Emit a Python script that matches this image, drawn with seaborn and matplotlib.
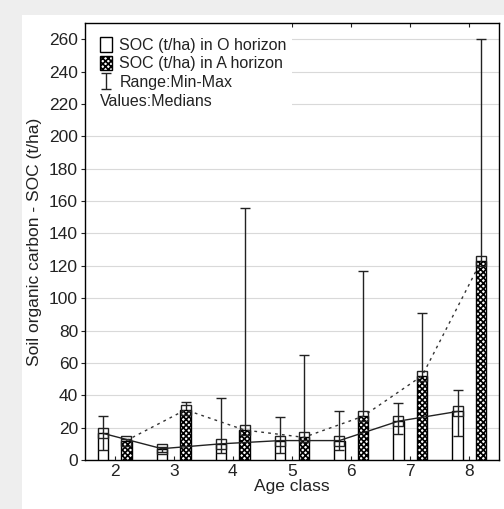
import numpy as np
import pandas as pd
import seaborn as sns
import matplotlib.pyplot as plt
from matplotlib.patches import Patch, Rectangle

# data (medians and min-max ranges)
ages = ["2", "3", "4", "5", "6", "7", "8"]
o_median = [16.5, 7, 10, 12, 12, 24, 30]
o_min = [6, 5, 4.5, 4.5, 6, 16, 15]
o_max = [27, 8, 38, 26.5, 30, 35, 43]
a_median = [12, 31, 18.5, 14, 27, 52, 123]
a_min = [9, 26, 10, 8, 12, 30, 70]
a_max = [13, 36, 155.5, 65, 116.5, 91, 260]

sns.set_style("ticks")
plt.rcParams["font.family"] = ["Liberation Sans", "DejaVu Sans"]
plt.rcParams["hatch.linewidth"] = 1.2

df = pd.DataFrame({
    "age": ages * 2,
    "horizon": ["O"] * len(ages) + ["A"] * len(ages),
    "soc": o_median + a_median,
})

fig = plt.figure(figsize=(5.04, 5.09), dpi=100, facecolor="#eeeeee")
fig.add_artist(Rectangle((22 / 504, 0), 1, 1 - 15 / 509, transform=fig.transFigure,
                         facecolor="white", edgecolor="none", zorder=-10))
ax = fig.add_axes([85 / 504, 1 - 460 / 509, 414 / 504, 437 / 509])
ax.set_zorder(1)

sns.barplot(data=df, x="age", y="soc", hue="horizon", order=ages, hue_order=["O", "A"],
            palette={"O": "white", "A": "white"}, edgecolor="black", linewidth=1,
            width=0.8, gap=0.56, errorbar=None, legend=False, ax=ax, zorder=3)
for bar in ax.containers[1]:
    bar.set_hatch("xxxxxx")

pos = np.arange(len(ages))
xo = pos - 0.2
xa = pos + 0.2

# whiskers (min-max)
ax.errorbar(xa, a_median, yerr=[np.array(a_median) - np.array(a_min), np.array(a_max) - np.array(a_median)],
            fmt="none", ecolor="#222222", elinewidth=1, capsize=3.5, capthick=1, zorder=2)
ax.errorbar(xo, o_median, yerr=[np.array(o_median) - np.array(o_min), np.array(o_max) - np.array(o_median)],
            fmt="none", ecolor="#222222", elinewidth=1, capsize=3.5, capthick=1, zorder=4,
            label="Range:Min-Max")

# median lines
ax.plot(xo, o_median, color="#222222", lw=1, marker="s", ms=6.5, mfc="none", mec="#222222", zorder=5)
ax.plot(xa, a_median, color="#333333", lw=1, ls=(0, (2, 3)), marker="s", ms=6.5, mfc="none",
        mec="#222222", zorder=5)

ax.set_xlim(-0.5, 6.5)
ax.set_ylim(0, 270)
ax.set_yticks(range(0, 261, 20))
ax.grid(axis="y", color="#d9d9d9", lw=0.8)
ax.set_axisbelow(True)
ax.add_patch(Rectangle((0, 0.79), 0.5, 0.21, transform=ax.transAxes, facecolor="white",
                       edgecolor="none", zorder=1))

for s in ax.spines.values():
    s.set_color("black")
    s.set_linewidth(1)
ax.tick_params(axis="y", direction="out", length=3, labelsize=12.5, colors="#222222", pad=2)
ax.tick_params(axis="x", direction="in", length=3, labelsize=12.5, colors="#222222", top=True, pad=3)
ax.set_xlabel("Age class", fontsize=12.5, color="#222222", labelpad=0)
ax.set_ylabel("Soil organic carbon - SOC (t/ha)", fontsize=12.5, color="#222222", labelpad=5)

handles = [
    Patch(facecolor="white", edgecolor="black", label="SOC (t/ha) in O horizon"),
    Patch(facecolor="white", edgecolor="black", hatch="xxxxxx", label="SOC (t/ha) in A horizon"),
]
eb_h, eb_l = ax.get_legend_handles_labels()
handles += eb_h
ax.legend(handles=handles, loc="upper left", bbox_to_anchor=(0.01, 0.993), frameon=False,
          fontsize=11.5, handlelength=0.75, handleheight=1.0, handletextpad=0.45,
          labelspacing=0.18, borderaxespad=0.3, labelcolor="#222222")
ax.text(0.036, 0.82, "Values:Medians", transform=ax.transAxes, fontsize=11.5, color="#222222",
        va="center", ha="left", zorder=6)

fig.savefig("out.png", dpi=100, facecolor=fig.get_facecolor())
